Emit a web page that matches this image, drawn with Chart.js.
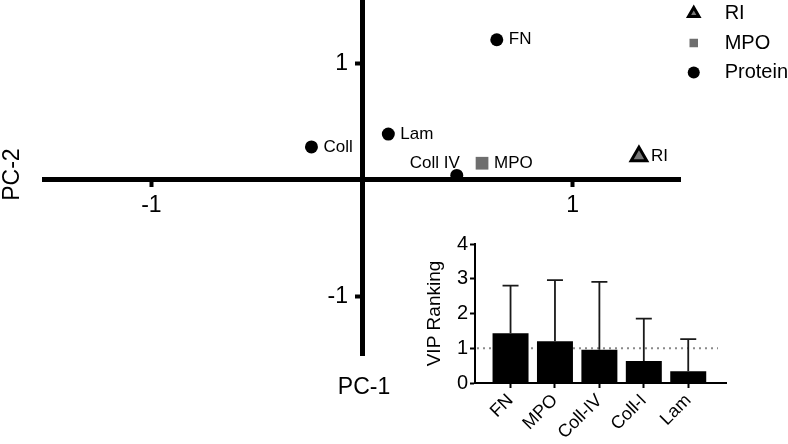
<!DOCTYPE html>
<html>
<head>
<meta charset="utf-8">
<script src="https://cdn.jsdelivr.net/npm/chart.js@4.4.1/dist/chart.umd.min.js"></script>
<style>
  html, body { margin: 0; padding: 0; background: #fff; }
  #wrap { position: relative; width: 788px; height: 444px; }
  #pca { position: absolute; left: 0; top: 0; }
  #vip { position: absolute; left: 400px; top: 230px; }
</style>
</head>
<body>
<div id="wrap">
  <canvas id="pca" width="788" height="444"></canvas>
  <canvas id="vip" width="388" height="214"></canvas>
</div>
<script>
// PCA loadings (PC-1 / PC-2)
const proteinNames = ['FN', 'Lam', 'Coll', 'Coll IV'];
const proteinPC1 = [0.64, 0.125, -0.24, 0.45];
const proteinPC2 = [1.20, 0.39, 0.28, 0.035];
const mpoNames = ['MPO'];
const mpoPC1 = [0.57];
const mpoPC2 = [0.14];
const riNames = ['RI'];
const riPC1 = [1.315];
const riPC2 = [0.20];
const pcTicks = [-1, 1];

// VIP ranking inset
const vipLabels = ['FN', 'MPO', 'Coll-IV', 'Coll-I', 'Lam'];
const vipValues = [1.43, 1.20, 0.96, 0.63, 0.34];
const vipErrors = [1.37, 1.76, 1.95, 1.22, 0.92];
const vipThreshold = 1;

Chart.defaults.font.family = '"Liberation Sans", Arial, Helvetica, sans-serif';
Chart.defaults.color = '#000';

const toPoints = (xs, ys) => xs.map((x, i) => ({ x: x, y: ys[i] }));

// labels next to points, y tick labels, axis titles
const pcaText = {
  id: 'pcaText',
  afterDatasetsDraw(chart) {
    const ctx = chart.ctx;
    const xs = chart.scales.x, ys = chart.scales.y;
    ctx.save();
    ctx.fillStyle = '#000';
    ctx.textBaseline = 'middle';
    ctx.font = '17px "Liberation Sans", Arial, sans-serif';
    chart.data.datasets.forEach((ds, di) => {
      chart.getDatasetMeta(di).data.forEach((pt, i) => {
        const name = ds.names[i];
        if (name === 'Coll IV') {
          ctx.textAlign = 'right';
          ctx.fillText(name, pt.x + 3, pt.y - 12);
        } else {
          ctx.textAlign = 'left';
          ctx.fillText(name, pt.x + 12, pt.y);
        }
      });
    });
    ctx.font = '23px "Liberation Sans", Arial, sans-serif';
    // y tick labels sit left of the centred axis
    ctx.textAlign = 'right';
    pcTicks.forEach(v => {
      ctx.fillText(String(v), xs.getPixelForValue(0) - 14, ys.getPixelForValue(v) + 1);
    });
    ctx.textAlign = 'center';
    ctx.fillText('PC-1', xs.getPixelForValue(0) + 2, chart.chartArea.bottom + 33);
    ctx.translate(13, ys.getPixelForValue(0) - 5);
    ctx.rotate(-Math.PI / 2);
    ctx.fillText('PC-2', 0, 0);
    ctx.restore();
  }
};

new Chart(document.getElementById('pca'), {
  type: 'scatter',
  data: {
    datasets: [
      {
        label: 'RI',
        names: riNames,
        data: toPoints(riPC1, riPC2),
        pointStyle: 'triangle',
        pointRadius: 9,
        backgroundColor: '#777777',
        borderColor: '#000',
        borderWidth: 3
      },
      {
        label: 'MPO',
        names: mpoNames,
        data: toPoints(mpoPC1, mpoPC2),
        pointStyle: 'rect',
        pointRadius: 9,
        backgroundColor: '#6e6e6e',
        borderColor: '#6e6e6e',
        borderWidth: 0
      },
      {
        label: 'Protein',
        names: proteinNames,
        data: toPoints(proteinPC1, proteinPC2),
        pointStyle: 'circle',
        pointRadius: 6.5,
        backgroundColor: '#000',
        borderColor: '#000',
        borderWidth: 0
      }
    ]
  },
  options: {
    responsive: false,
    animation: false,
    // negative top only moves the legend up; the plot area itself stays at 0
    layout: { autoPadding: false, padding: { left: 44, right: 0, top: -6, bottom: 89 } },
    plugins: {
      tooltip: { enabled: false },
      legend: {
        position: 'right',
        align: 'start',
        maxWidth: 108,
        labels: {
          usePointStyle: true,
          boxWidth: 8.5,
          boxHeight: 8.5,
          padding: 9.5,
          color: '#000',
          font: { size: 20 },
          generateLabels: (chart) => Chart.defaults.plugins.legend.labels.generateLabels(chart)
            .map(l => Object.assign(l, { text: '   ' + l.text }))
        }
      }
    },
    scales: {
      x: {
        type: 'linear',
        position: { y: 0 },
        min: -1.51,
        max: 1.51,
        afterBuildTicks: (axis) => { axis.ticks = pcTicks.map(v => ({ value: v })); },
        grid: { drawOnChartArea: false, tickLength: 5, tickWidth: 4, tickColor: '#000' },
        border: { color: '#000', width: 5 },
        ticks: { color: '#000', font: { size: 23 }, padding: 7 }
      },
      y: {
        type: 'linear',
        position: { x: 0 },
        min: -1.506,
        max: 1.541,
        afterBuildTicks: (axis) => { axis.ticks = pcTicks.map(v => ({ value: v })); },
        grid: { drawOnChartArea: false, tickLength: 5, tickWidth: 4, tickColor: '#000' },
        border: { color: '#000', width: 5 },
        ticks: { display: false }
      }
    }
  },
  plugins: [pcaText]
});

// error bars (upper only) and dotted threshold line
const vipExtras = {
  id: 'vipExtras',
  beforeDatasetsDraw(chart) {
    const ctx = chart.ctx, area = chart.chartArea;
    const y = chart.scales.y.getPixelForValue(vipThreshold);
    ctx.save();
    ctx.strokeStyle = '#8a8a8a';
    ctx.lineWidth = 2;
    ctx.setLineDash([2, 4]);
    ctx.beginPath();
    ctx.moveTo(area.left + 2, y);
    ctx.lineTo(area.right - 8, y);
    ctx.stroke();
    ctx.restore();
  },
  afterDatasetsDraw(chart) {
    const ctx = chart.ctx;
    const ys = chart.scales.y;
    ctx.save();
    ctx.strokeStyle = '#1a1a1a';
    ctx.lineWidth = 1.8;
    ctx.beginPath();
    chart.getDatasetMeta(0).data.forEach((bar, i) => {
      const top = ys.getPixelForValue(vipValues[i] + vipErrors[i]);
      ctx.moveTo(bar.x, bar.y);
      ctx.lineTo(bar.x, top);
      ctx.moveTo(bar.x - 8, top);
      ctx.lineTo(bar.x + 8, top);
    });
    ctx.stroke();
    ctx.restore();
  }
};

new Chart(document.getElementById('vip'), {
  type: 'bar',
  data: {
    datasets: [{
      data: vipValues.map((v, i) => ({ x: i, y: v })),
      backgroundColor: '#000',
      barPercentage: 0.81,
      categoryPercentage: 1
    }]
  },
  options: {
    responsive: false,
    animation: false,
    layout: { padding: { left: 0, right: 62, top: 13, bottom: 0 } },
    plugins: { legend: { display: false }, tooltip: { enabled: false } },
    scales: {
      x: {
        type: 'linear',
        offset: false,
        min: -0.8,
        max: 4.85,
        afterBuildTicks: (axis) => { axis.ticks = vipLabels.map((_, i) => ({ value: i })); },
        afterFit: (scale) => { scale.height = 61; },
        grid: { offset: false, drawOnChartArea: false, tickLength: 5, tickWidth: 2, tickColor: '#000' },
        border: { color: '#000', width: 2 },
        ticks: {
          color: '#000',
          font: { size: 18 },
          minRotation: 45,
          maxRotation: 45,
          padding: 2,
          callback: (v) => vipLabels[v]
        }
      },
      y: {
        min: 0,
        max: 4,
        afterFit: (scale) => { scale.width = 75; },
        grid: { drawOnChartArea: false, tickLength: 5, tickWidth: 2, tickColor: '#000' },
        border: { color: '#000', width: 2 },
        ticks: { stepSize: 1, color: '#000', font: { size: 20 }, padding: 2 },
        title: { display: true, text: 'VIP Ranking', color: '#000', font: { size: 19 }, padding: { top: 23, bottom: 0 } }
      }
    }
  },
  plugins: [vipExtras]
});
</script>
</body>
</html>
